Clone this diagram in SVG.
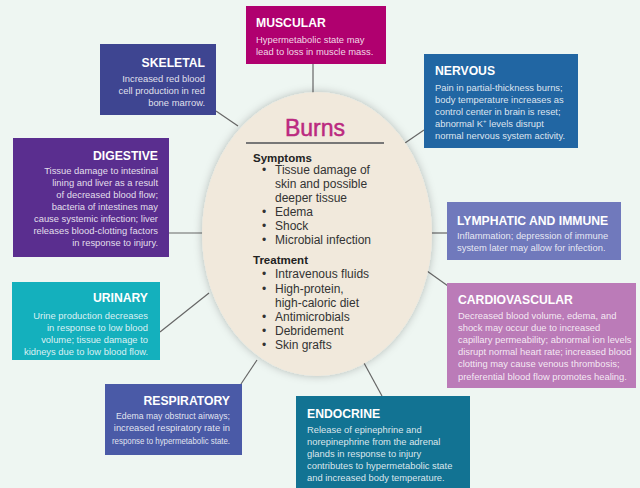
<svg xmlns="http://www.w3.org/2000/svg" width="640" height="488" viewBox="0 0 640 488">
<defs>
<style>
.t{font-family:"Liberation Sans",Arial,sans-serif;font-weight:bold;font-size:12.2px;fill:#fff}
.b{font-family:"Liberation Sans",Arial,sans-serif;font-size:9.4px;fill:#fff;fill-opacity:0.85}
.r{text-anchor:end}
.h{font-family:"Liberation Sans",Arial,sans-serif;font-weight:bold;font-size:11.5px;fill:#222}
.i{font-family:"Liberation Sans",Arial,sans-serif;font-size:12px;fill:#333}
.c{stroke:#666;stroke-width:1.2;fill:none}
</style>
<filter id="sh" x="-20%" y="-20%" width="140%" height="140%">
<feDropShadow dx="0" dy="0" stdDeviation="4" flood-color="#000" flood-opacity="0.25"/>
</filter>
</defs>
<rect width="640" height="488" fill="#eef6f2"/>
<g id="connectors">
<line class="c" x1="313" y1="64" x2="313" y2="93"/>
<line class="c" x1="216" y1="111" x2="238" y2="126"/>
<line class="c" x1="424" y1="130" x2="405" y2="143"/>
<line class="c" x1="168" y1="233" x2="203" y2="233"/>
<line class="c" x1="431" y1="233" x2="447" y2="233"/>
<line class="c" x1="427" y1="271" x2="448" y2="286"/>
<line class="c" x1="160" y1="332" x2="209" y2="293"/>
<line class="c" x1="241" y1="384" x2="257" y2="360"/>
<line class="c" x1="364" y1="363" x2="382" y2="396"/>
</g>
<g id="burns">
<ellipse cx="317" cy="234" rx="115" ry="142" fill="#f1e9dc" filter="url(#sh)"/>
<text x="315" y="136" text-anchor="middle" style="font-family:'Liberation Sans',Arial,sans-serif;font-size:23px;fill:#bb2a80;stroke:#bb2a80;stroke-width:0.5">Burns</text>
<line x1="246" y1="143" x2="384" y2="143" stroke="#777" stroke-width="2"/>
<text class="h" x="253" y="162">Symptoms</text>
<g class="i">
<text x="262" y="174">•</text><text x="275" y="174">Tissue damage of</text>
<text x="275" y="188">skin and possible</text>
<text x="275" y="202">deeper tissue</text>
<text x="262" y="216">•</text><text x="275" y="216">Edema</text>
<text x="262" y="230">•</text><text x="275" y="230">Shock</text>
<text x="262" y="244">•</text><text x="275" y="244">Microbial infection</text>
</g>
<text class="h" x="253" y="264">Treatment</text>
<g class="i">
<text x="262" y="278">•</text><text x="275" y="278">Intravenous fluids</text>
<text x="262" y="293">•</text><text x="275" y="293">High-protein,</text>
<text x="275" y="307">high-caloric diet</text>
<text x="262" y="321">•</text><text x="275" y="321">Antimicrobials</text>
<text x="262" y="335">•</text><text x="275" y="335">Debridement</text>
<text x="262" y="349">•</text><text x="275" y="349">Skin grafts</text>
</g>
</g>
<g id="muscular">
<rect x="246" y="6" width="140" height="58" fill="#b0006f"/>
<text class="t" x="256" y="27">MUSCULAR</text>
<text class="b" x="256" y="43">Hypermetabolic state may</text>
<text class="b" x="256" y="55">lead to loss in muscle mass.</text>
</g>
<g id="skeletal">
<rect x="100" y="44" width="116" height="71" fill="#3e4591"/>
<text class="t r" x="205" y="67">SKELETAL</text>
<text class="b r" x="205" y="82">Increased red blood</text>
<text class="b r" x="205" y="94">cell production in red</text>
<text class="b r" x="205" y="106">bone marrow.</text>
</g>
<g id="nervous">
<rect x="424" y="54" width="154" height="94" fill="#2166a3"/>
<text class="t" x="435" y="75">NERVOUS</text>
<text class="b" x="435" y="91">Pain in partial-thickness burns;</text>
<text class="b" x="435" y="103">body temperature increases as</text>
<text class="b" x="435" y="115">control center in brain is reset;</text>
<text class="b" x="435" y="127">abnormal K<tspan dy="-4" font-size="6">+</tspan><tspan dy="4"> levels disrupt</tspan></text>
<text class="b" x="435" y="139">normal nervous system activity.</text>
</g>
<g id="digestive">
<rect x="13" y="138" width="156" height="119" fill="#5a2e8f"/>
<text class="t r" x="158" y="160">DIGESTIVE</text>
<text class="b r" x="158" y="174">Tissue damage to intestinal</text>
<text class="b r" x="158" y="186">lining and liver as a result</text>
<text class="b r" x="158" y="198">of decreased blood flow;</text>
<text class="b r" x="158" y="210">bacteria of intestines may</text>
<text class="b r" x="158" y="222">cause systemic infection; liver</text>
<text class="b r" x="158" y="234">releases blood-clotting factors</text>
<text class="b r" x="158" y="246">in response to injury.</text>
</g>
<g id="lymphatic">
<rect x="447" y="202" width="174" height="58" fill="#7079bc"/>
<text class="t" x="457" y="225">LYMPHATIC AND IMMUNE</text>
<text class="b" x="457" y="239">Inflammation; depression of immune</text>
<text class="b" x="457" y="251">system later may allow for infection.</text>
</g>
<g id="cardiovascular">
<rect x="447" y="283" width="189" height="105" fill="#bb7bb8"/>
<text class="t" x="458" y="304">CARDIOVASCULAR</text>
<text class="b" x="458" y="319">Decreased blood volume, edema, and</text>
<text class="b" x="458" y="331">shock may occur due to increased</text>
<text class="b" x="458" y="343">capillary permeability; abnormal ion levels</text>
<text class="b" x="458" y="355">disrupt normal heart rate; increased blood</text>
<text class="b" x="458" y="367">clotting may cause venous thrombosis;</text>
<text class="b" x="458" y="380">preferential blood flow promotes healing.</text>
</g>
<g id="urinary">
<rect x="12" y="282" width="148" height="78" fill="#14b0bd"/>
<text class="t r" x="148" y="302">URINARY</text>
<text class="b r" x="148" y="319">Urine production decreases</text>
<text class="b r" x="148" y="331">in response to low blood</text>
<text class="b r" x="148" y="343">volume; tissue damage to</text>
<text class="b r" x="148" y="355">kidneys due to low blood flow.</text>
</g>
<g id="respiratory">
<rect x="105" y="384" width="137" height="71" fill="#4a5aa7"/>
<text class="t r" x="230" y="405">RESPIRATORY</text>
<text class="b r" x="230" y="419" textLength="114" lengthAdjust="spacingAndGlyphs">Edema may obstruct airways;</text>
<text class="b r" x="230" y="431">increased respiratory rate in</text>
<text class="b r" x="230" y="444" style="font-size:8.8px" textLength="118" lengthAdjust="spacingAndGlyphs">response to hypermetabolic state.</text>
</g>
<g id="endocrine">
<rect x="296" y="396" width="174" height="92" fill="#127393"/>
<text class="t" x="307" y="418">ENDOCRINE</text>
<text class="b" x="307" y="433">Release of epinephrine and</text>
<text class="b" x="307" y="445">norepinephrine from the adrenal</text>
<text class="b" x="307" y="457">glands in response to injury</text>
<text class="b" x="307" y="469">contributes to hypermetabolic state</text>
<text class="b" x="307" y="481">and increased body temperature.</text>
</g>
</svg>
